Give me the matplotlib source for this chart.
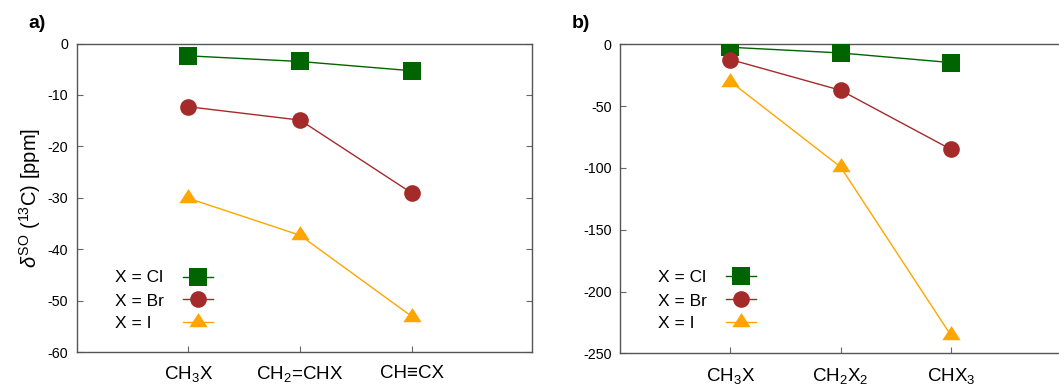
import matplotlib
matplotlib.use("Agg")
import matplotlib.pyplot as plt

plt.rcParams['font.family'] = ['Liberation Sans', 'DejaVu Sans']
plt.rcParams['mathtext.fontset'] = 'custom'
plt.rcParams['mathtext.rm'] = 'Liberation Sans'
plt.rcParams['mathtext.it'] = 'Liberation Sans:italic'
plt.rcParams['mathtext.bf'] = 'Liberation Sans:bold'

# Panel a: CH3X, CH2=CHX, CH≡CX
cats_a = ['CH$_3$X', 'CH$_2$=CHX', 'CH≡CX']
cl_a = [-2.4, -3.5, -5.3]
br_a = [-12.3, -14.9, -29.1]
i_a = [-30.1, -37.3, -53.1]
yticks_a = [0, -10, -20, -30, -40, -50, -60]

# Panel b: CH3X, CH2X2, CHX3
cats_b = ['CH$_3$X', 'CH$_2$X$_2$', 'CHX$_3$']
cl_b = [-2.4, -7.0, -14.8]
br_b = [-12.3, -37.2, -85.0]
i_b = [-30.1, -99.3, -235.5]
yticks_b = [0, -50, -100, -150, -200, -250]

labels = ['X = Cl', 'X = Br', 'X = I']
colors = ['#006400', '#a52a2a', '#ffa500']
# flattened triangle, centred on its centroid
tri = [(-1.0, -0.517), (1.0, -0.517), (0.0, 1.033)]
markers = ['s', 'o', tri]
msizes = [13.0, 12.0, 13.6]

W, H = 1059, 386
fig = plt.figure(figsize=(W / 100, H / 100), dpi=100)

def px_axes(left, top, right, bottom):
    return fig.add_axes([left / W, 1 - bottom / H, (right - left) / W, (bottom - top) / H])

ax_a = px_axes(76.5, 43.5, 531.5, 352)
ax_b = px_axes(620, 44.3, 1069, 353.3)

def draw(ax, cats, series, yticks, ylim):
    x = range(1, len(cats) + 1)
    handles = []
    for vals, c, m, ms in zip(series, colors, markers, msizes):
        h, = ax.plot(x, vals, color=c, lw=1.0, marker=m, ms=ms,
                     markeredgewidth=0, zorder=3)
        handles.append(h)
    ax.set_xlim(0, 4.07)
    ax.set_ylim(*ylim)
    ax.set_xticks(list(x))
    ax.set_xticklabels(cats, fontsize=13.5)
    ax.set_yticks(yticks)
    ax.set_yticklabels([str(v) for v in yticks], fontsize=10.3)
    ax.tick_params(axis='y', direction='in', length=4, width=0.8,
                   color='#666666', right=True, pad=6)
    ax.tick_params(axis='x', direction='in', length=4, width=0.8,
                   color='#666666', pad=9)
    for s in ax.spines.values():
        s.set_color('#555555')
        s.set_linewidth(1.0)
    return handles

h_a = draw(ax_a, cats_a, [cl_a, br_a, i_a], yticks_a, (-60, 0))
h_b = draw(ax_b, cats_b, [cl_b, br_b, i_b], yticks_b, (-250, 0))

ax_a.set_ylabel(r'$\delta^{\mathrm{SO}}$ ($^{13}$C) [ppm]', fontsize=14.5, labelpad=3)

def add_legend(ax, handles, hx, tx, rows):
    ax.legend(handles, ['', '', ''], loc='center',
              bbox_to_anchor=(hx, sum(rows) / 3), frameon=False,
              handlelength=1.8, handletextpad=0, borderpad=0,
              labelspacing=0.45, fontsize=12.3, borderaxespad=0)
    for lab, y in zip(labels, rows):
        ax.text(tx, y, lab, transform=ax.transAxes, fontsize=12.5,
                ha='left', va='center')

rows_a = [(352 - y) / 308.5 for y in (277, 301, 324)]
rows_b = [(353.3 - y) / 309 for y in (277, 301, 324)]
add_legend(ax_a, h_a, (198 - 76.5) / 455, (115 - 76.5) / 455, rows_a)
add_legend(ax_b, h_b, (741 - 620) / 449, (657.7 - 620) / 449, rows_b)

fig.text(28 / W, 1 - 24 / H, 'a)', fontsize=14, fontweight='bold', va='center')
fig.text(572 / W, 1 - 24 / H, 'b)', fontsize=14, fontweight='bold', va='center')

fig.savefig('out.png', dpi=100)
